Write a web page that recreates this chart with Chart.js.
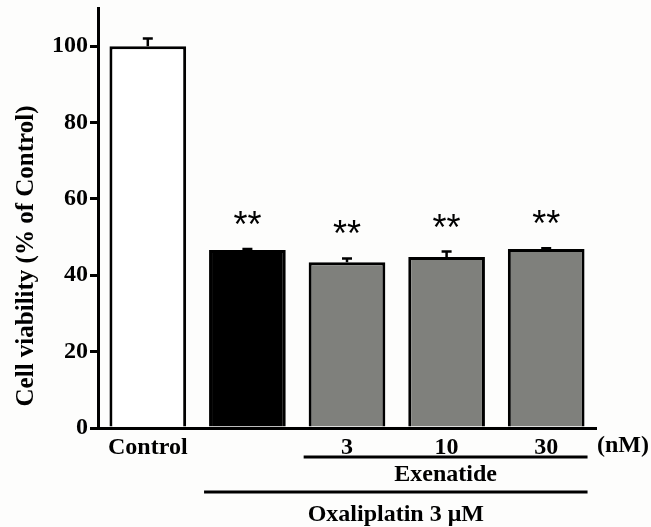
<!DOCTYPE html>
<html>
<head>
<meta charset="utf-8">
<script src="https://cdn.jsdelivr.net/npm/chart.js@4.4.1/dist/chart.umd.min.js"></script>
<style>
  html, body { margin: 0; padding: 0; background: #fdfdfc; }
  #wrap { width: 651px; height: 527px; }
</style>
</head>
<body>
<div id="wrap"><canvas id="viabilityChart" width="651" height="527"></canvas></div>
<script>
/****************************** Data ********************************/
const labels = ['Control', '', '3', '10', '30'];
const viability = [100, 46.6, 43.4, 44.8, 46.9];
const sem = [2.0, 0.3, 1.0, 1.4, 0.2];
const marks = ['', '**', '**', '**', '**'];
const yTicks = [0, 20, 40, 60, 80, 100];
const barColors = ['#ffffff', '#000000', '#7f807c', '#7f807c', '#7f807c'];
const groups = [
    { text: 'Exenatide', from: 2, to: 4 },
    { text: 'Oxaliplatin 3 \u03bcM', from: 1, to: 4 }
];
const unitLabel = '(nM)';
const yTitle = 'Cell viability (% of Control)';

const serif = '"Liberation Serif", "Times New Roman", serif';

/****************************** Extras plugin ********************************/
const extras = {
    id: 'extras',
    afterDatasetsDraw(chart) {
        const ctx = chart.ctx;
        const y = chart.scales.y;
        const meta = chart.getDatasetMeta(0);
        ctx.save();
        ctx.strokeStyle = '#000';
        ctx.fillStyle = '#000';
        meta.data.forEach((bar, i) => {
            const top = y.getPixelForValue(viability[i] + sem[i]);
            const base = y.getPixelForValue(viability[i]);
            // error bar
            ctx.lineWidth = 2.5;
            ctx.beginPath();
            ctx.moveTo(bar.x, base);
            ctx.lineTo(bar.x, top);
            ctx.moveTo(bar.x - 5, top);
            ctx.lineTo(bar.x + 5, top);
            ctx.stroke();
            // significance
            if (marks[i]) {
                ctx.font = '36px "Liberation Sans", Arial, sans-serif';
                ctx.textAlign = 'center';
                ctx.textBaseline = 'alphabetic';
                const m = ctx.measureText(marks[i]);
                const centre = top - 31;
                const baseLine = centre + (m.actualBoundingBoxAscent - m.actualBoundingBoxDescent) / 2;
                ctx.fillText(marks[i], bar.x, baseLine);
            }
        });
        ctx.restore();
    },
    afterDraw(chart) {
        const ctx = chart.ctx;
        const x = chart.scales.x;
        const area = chart.chartArea;
        const meta = chart.getDatasetMeta(0);
        const half = meta.data[0].width / 2;
        ctx.save();
        ctx.fillStyle = '#000';
        ctx.strokeStyle = '#000';
        ctx.font = 'bold 24px ' + serif;
        ctx.textAlign = 'center';
        ctx.textBaseline = 'middle';

        const lineY = [457, 492];
        const textY = [475, 515];
        groups.forEach((g, k) => {
            const x1 = x.getPixelForValue(g.from) - half - 5;
            const x2 = x.getPixelForValue(g.to) + half + 3;
            ctx.lineWidth = 3;
            ctx.beginPath();
            ctx.moveTo(x1, lineY[k]);
            ctx.lineTo(x2, lineY[k]);
            ctx.stroke();
            ctx.fillText(g.text, (x1 + x2) / 2, textY[k]);
        });

        // unit label right of the axis
        ctx.textAlign = 'left';
        ctx.fillText(unitLabel, area.right + 1, 446);

        // y axis title
        ctx.font = 'bold 25px ' + serif;
        ctx.translate(27, 256);
        ctx.rotate(-Math.PI / 2);
        ctx.textAlign = 'center';
        ctx.fillText(yTitle, 0, 0);
        ctx.restore();
    }
};

/****************************** Chart ********************************/
new Chart(document.getElementById('viabilityChart'), {
    type: 'bar',
    data: {
        labels: labels,
        datasets: [{
            data: viability,
            backgroundColor: barColors,
            borderColor: '#000',
            borderWidth: 3,
            barPercentage: 0.77,
            categoryPercentage: 1
        }]
    },
    options: {
        responsive: false,
        animation: false,
        events: [],
        layout: { padding: { left: 0, right: 55, top: 7, bottom: 0 } },
        plugins: {
            legend: { display: false },
            tooltip: { enabled: false }
        },
        scales: {
            x: {
                grid: { display: false, drawTicks: false },
                border: { display: true, color: '#000', width: 3 },
                ticks: {
                    color: '#000',
                    padding: 5,
                    maxRotation: 0,
                    font: { family: serif, size: 24, weight: 'bold' }
                },
                afterFit: s => { s.height = 99; }
            },
            y: {
                min: 0,
                max: 110,
                afterBuildTicks: s => { s.ticks = yTicks.map(v => ({ value: v })); },
                grid: {
                    drawOnChartArea: false,
                    drawTicks: true,
                    tickLength: 8,
                    color: '#000',
                    lineWidth: 3
                },
                border: { display: true, color: '#000', width: 3 },
                ticks: {
                    color: '#000',
                    padding: 2,
                    font: { family: serif, size: 24, weight: 'bold', lineHeight: 0.5 }
                },
                afterFit: s => { s.width = 98; }
            }
        }
    },
    plugins: [extras]
});
</script>
</body>
</html>
